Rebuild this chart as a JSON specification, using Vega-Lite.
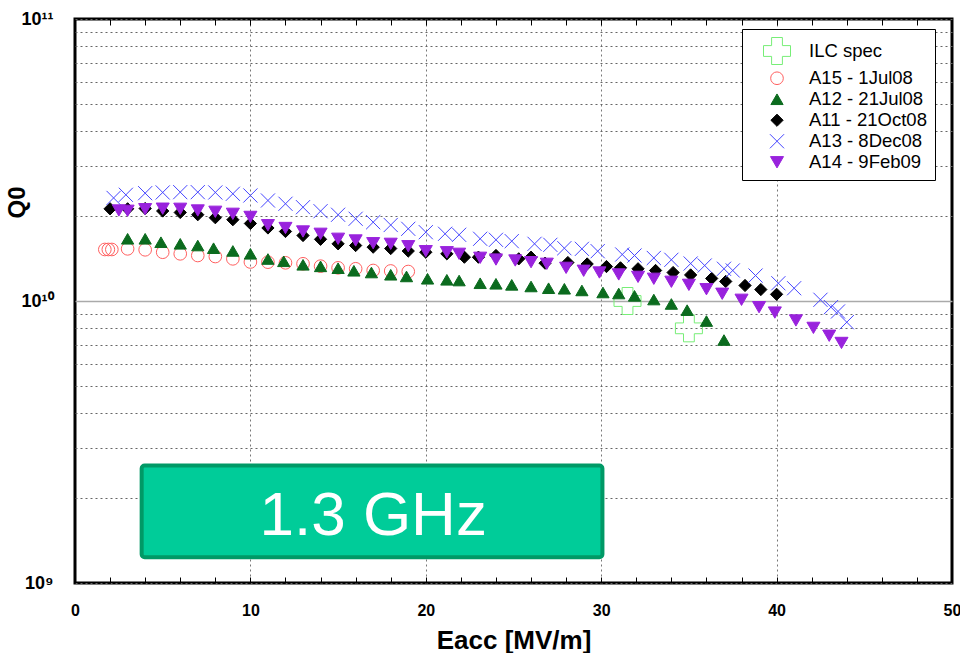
{
  "$schema": "https://vega.github.io/schema/vega-lite/v6.json",
  "width": 877,
  "height": 564,
  "autosize": "none",
  "padding": {"left": 75, "top": 19, "right": 8, "bottom": 70},
  "background": "white",
  "config": {"view": {"stroke": "black", "strokeWidth": 3}, "font": "Liberation Sans"},
  "datasets": {
    "box": [{"x1": 3.8, "x2": 30.07, "y1": 2.61e9, "y2": 1.235e9, "tx": 17.0, "ty": 1.474e9, "label": "1.3 GHz"}],
    "pts": [
      {"series": "ILC spec", "Eacc": 31.5, "Q0": 1.0e10},
      {"series": "ILC spec", "Eacc": 35, "Q0": 8.0e9},
      {"series": "A15 - 1Jul08", "Eacc": 1.7, "Q0": 1.523e10},
      {"series": "A15 - 1Jul08", "Eacc": 1.9, "Q0": 1.523e10},
      {"series": "A15 - 1Jul08", "Eacc": 2.1, "Q0": 1.523e10},
      {"series": "A15 - 1Jul08", "Eacc": 3, "Q0": 1.531e10},
      {"series": "A15 - 1Jul08", "Eacc": 4, "Q0": 1.519e10},
      {"series": "A15 - 1Jul08", "Eacc": 5, "Q0": 1.489e10},
      {"series": "A15 - 1Jul08", "Eacc": 6, "Q0": 1.470e10},
      {"series": "A15 - 1Jul08", "Eacc": 7, "Q0": 1.450e10},
      {"series": "A15 - 1Jul08", "Eacc": 8, "Q0": 1.438e10},
      {"series": "A15 - 1Jul08", "Eacc": 9, "Q0": 1.411e10},
      {"series": "A15 - 1Jul08", "Eacc": 10, "Q0": 1.375e10},
      {"series": "A15 - 1Jul08", "Eacc": 11, "Q0": 1.373e10},
      {"series": "A15 - 1Jul08", "Eacc": 12, "Q0": 1.366e10},
      {"series": "A15 - 1Jul08", "Eacc": 13, "Q0": 1.355e10},
      {"series": "A15 - 1Jul08", "Eacc": 14, "Q0": 1.329e10},
      {"series": "A15 - 1Jul08", "Eacc": 15, "Q0": 1.311e10},
      {"series": "A15 - 1Jul08", "Eacc": 16, "Q0": 1.301e10},
      {"series": "A15 - 1Jul08", "Eacc": 17, "Q0": 1.283e10},
      {"series": "A15 - 1Jul08", "Eacc": 18, "Q0": 1.278e10},
      {"series": "A15 - 1Jul08", "Eacc": 19, "Q0": 1.272e10},
      {"series": "A12 - 21Jul08", "Eacc": 3, "Q0": 1.662e10},
      {"series": "A12 - 21Jul08", "Eacc": 4, "Q0": 1.662e10},
      {"series": "A12 - 21Jul08", "Eacc": 4.9, "Q0": 1.616e10},
      {"series": "A12 - 21Jul08", "Eacc": 6, "Q0": 1.595e10},
      {"series": "A12 - 21Jul08", "Eacc": 7, "Q0": 1.573e10},
      {"series": "A12 - 21Jul08", "Eacc": 7.9, "Q0": 1.539e10},
      {"series": "A12 - 21Jul08", "Eacc": 9, "Q0": 1.505e10},
      {"series": "A12 - 21Jul08", "Eacc": 10, "Q0": 1.470e10},
      {"series": "A12 - 21Jul08", "Eacc": 11, "Q0": 1.409e10},
      {"series": "A12 - 21Jul08", "Eacc": 11.9, "Q0": 1.383e10},
      {"series": "A12 - 21Jul08", "Eacc": 13, "Q0": 1.344e10},
      {"series": "A12 - 21Jul08", "Eacc": 14, "Q0": 1.327e10},
      {"series": "A12 - 21Jul08", "Eacc": 15, "Q0": 1.307e10},
      {"series": "A12 - 21Jul08", "Eacc": 15.9, "Q0": 1.280e10},
      {"series": "A12 - 21Jul08", "Eacc": 16.9, "Q0": 1.262e10},
      {"series": "A12 - 21Jul08", "Eacc": 18, "Q0": 1.239e10},
      {"series": "A12 - 21Jul08", "Eacc": 18.9, "Q0": 1.222e10},
      {"series": "A12 - 21Jul08", "Eacc": 20.1, "Q0": 1.199e10},
      {"series": "A12 - 21Jul08", "Eacc": 21.2, "Q0": 1.189e10},
      {"series": "A12 - 21Jul08", "Eacc": 21.9, "Q0": 1.182e10},
      {"series": "A12 - 21Jul08", "Eacc": 23.1, "Q0": 1.156e10},
      {"series": "A12 - 21Jul08", "Eacc": 24, "Q0": 1.151e10},
      {"series": "A12 - 21Jul08", "Eacc": 24.9, "Q0": 1.141e10},
      {"series": "A12 - 21Jul08", "Eacc": 26, "Q0": 1.126e10},
      {"series": "A12 - 21Jul08", "Eacc": 27, "Q0": 1.110e10},
      {"series": "A12 - 21Jul08", "Eacc": 27.9, "Q0": 1.105e10},
      {"series": "A12 - 21Jul08", "Eacc": 28.9, "Q0": 1.090e10},
      {"series": "A12 - 21Jul08", "Eacc": 30.1, "Q0": 1.072e10},
      {"series": "A12 - 21Jul08", "Eacc": 31, "Q0": 1.063e10},
      {"series": "A12 - 21Jul08", "Eacc": 31.9, "Q0": 1.043e10},
      {"series": "A12 - 21Jul08", "Eacc": 33, "Q0": 1.012e10},
      {"series": "A12 - 21Jul08", "Eacc": 34, "Q0": 9.76e9},
      {"series": "A12 - 21Jul08", "Eacc": 34.9, "Q0": 9.28e9},
      {"series": "A12 - 21Jul08", "Eacc": 36, "Q0": 8.49e9},
      {"series": "A12 - 21Jul08", "Eacc": 37, "Q0": 7.27e9},
      {"series": "A11 - 21Oct08", "Eacc": 2, "Q0": 2.123e10},
      {"series": "A11 - 21Oct08", "Eacc": 3, "Q0": 2.123e10},
      {"series": "A11 - 21Oct08", "Eacc": 4, "Q0": 2.128e10},
      {"series": "A11 - 21Oct08", "Eacc": 5, "Q0": 2.085e10},
      {"series": "A11 - 21Oct08", "Eacc": 6, "Q0": 2.060e10},
      {"series": "A11 - 21Oct08", "Eacc": 7, "Q0": 2.023e10},
      {"series": "A11 - 21Oct08", "Eacc": 8, "Q0": 1.974e10},
      {"series": "A11 - 21Oct08", "Eacc": 9, "Q0": 1.942e10},
      {"series": "A11 - 21Oct08", "Eacc": 10, "Q0": 1.883e10},
      {"series": "A11 - 21Oct08", "Eacc": 11, "Q0": 1.815e10},
      {"series": "A11 - 21Oct08", "Eacc": 12, "Q0": 1.764e10},
      {"series": "A11 - 21Oct08", "Eacc": 13, "Q0": 1.707e10},
      {"series": "A11 - 21Oct08", "Eacc": 14, "Q0": 1.655e10},
      {"series": "A11 - 21Oct08", "Eacc": 15, "Q0": 1.595e10},
      {"series": "A11 - 21Oct08", "Eacc": 16, "Q0": 1.573e10},
      {"series": "A11 - 21Oct08", "Eacc": 17, "Q0": 1.552e10},
      {"series": "A11 - 21Oct08", "Eacc": 18, "Q0": 1.535e10},
      {"series": "A11 - 21Oct08", "Eacc": 19, "Q0": 1.504e10},
      {"series": "A11 - 21Oct08", "Eacc": 20, "Q0": 1.489e10},
      {"series": "A11 - 21Oct08", "Eacc": 21.2, "Q0": 1.470e10},
      {"series": "A11 - 21Oct08", "Eacc": 22.2, "Q0": 1.430e10},
      {"series": "A11 - 21Oct08", "Eacc": 23, "Q0": 1.430e10},
      {"series": "A11 - 21Oct08", "Eacc": 24, "Q0": 1.450e10},
      {"series": "A11 - 21Oct08", "Eacc": 25.3, "Q0": 1.411e10},
      {"series": "A11 - 21Oct08", "Eacc": 26, "Q0": 1.430e10},
      {"series": "A11 - 21Oct08", "Eacc": 26.8, "Q0": 1.362e10},
      {"series": "A11 - 21Oct08", "Eacc": 28.1, "Q0": 1.369e10},
      {"series": "A11 - 21Oct08", "Eacc": 29.2, "Q0": 1.353e10},
      {"series": "A11 - 21Oct08", "Eacc": 30.3, "Q0": 1.325e10},
      {"series": "A11 - 21Oct08", "Eacc": 31.1, "Q0": 1.311e10},
      {"series": "A11 - 21Oct08", "Eacc": 32.1, "Q0": 1.301e10},
      {"series": "A11 - 21Oct08", "Eacc": 33.1, "Q0": 1.283e10},
      {"series": "A11 - 21Oct08", "Eacc": 34.1, "Q0": 1.262e10},
      {"series": "A11 - 21Oct08", "Eacc": 35.1, "Q0": 1.237e10},
      {"series": "A11 - 21Oct08", "Eacc": 36.3, "Q0": 1.202e10},
      {"series": "A11 - 21Oct08", "Eacc": 37.1, "Q0": 1.173e10},
      {"series": "A11 - 21Oct08", "Eacc": 38.2, "Q0": 1.135e10},
      {"series": "A11 - 21Oct08", "Eacc": 39.1, "Q0": 1.098e10},
      {"series": "A11 - 21Oct08", "Eacc": 40, "Q0": 1.056e10},
      {"series": "A13 - 8Dec08", "Eacc": 2.2, "Q0": 2.32e10},
      {"series": "A13 - 8Dec08", "Eacc": 2.9, "Q0": 2.38e10},
      {"series": "A13 - 8Dec08", "Eacc": 4, "Q0": 2.412e10},
      {"series": "A13 - 8Dec08", "Eacc": 5, "Q0": 2.426e10},
      {"series": "A13 - 8Dec08", "Eacc": 6, "Q0": 2.432e10},
      {"series": "A13 - 8Dec08", "Eacc": 7, "Q0": 2.432e10},
      {"series": "A13 - 8Dec08", "Eacc": 8, "Q0": 2.426e10},
      {"series": "A13 - 8Dec08", "Eacc": 9, "Q0": 2.400e10},
      {"series": "A13 - 8Dec08", "Eacc": 10, "Q0": 2.367e10},
      {"series": "A13 - 8Dec08", "Eacc": 11, "Q0": 2.272e10},
      {"series": "A13 - 8Dec08", "Eacc": 12, "Q0": 2.212e10},
      {"series": "A13 - 8Dec08", "Eacc": 13, "Q0": 2.151e10},
      {"series": "A13 - 8Dec08", "Eacc": 14, "Q0": 2.082e10},
      {"series": "A13 - 8Dec08", "Eacc": 15, "Q0": 2.022e10},
      {"series": "A13 - 8Dec08", "Eacc": 16, "Q0": 1.957e10},
      {"series": "A13 - 8Dec08", "Eacc": 17, "Q0": 1.903e10},
      {"series": "A13 - 8Dec08", "Eacc": 18, "Q0": 1.860e10},
      {"series": "A13 - 8Dec08", "Eacc": 19, "Q0": 1.803e10},
      {"series": "A13 - 8Dec08", "Eacc": 20, "Q0": 1.754e10},
      {"series": "A13 - 8Dec08", "Eacc": 21.1, "Q0": 1.731e10},
      {"series": "A13 - 8Dec08", "Eacc": 21.9, "Q0": 1.717e10},
      {"series": "A13 - 8Dec08", "Eacc": 23.1, "Q0": 1.662e10},
      {"series": "A13 - 8Dec08", "Eacc": 24, "Q0": 1.648e10},
      {"series": "A13 - 8Dec08", "Eacc": 24.9, "Q0": 1.630e10},
      {"series": "A13 - 8Dec08", "Eacc": 26.2, "Q0": 1.595e10},
      {"series": "A13 - 8Dec08", "Eacc": 27.1, "Q0": 1.582e10},
      {"series": "A13 - 8Dec08", "Eacc": 27.9, "Q0": 1.539e10},
      {"series": "A13 - 8Dec08", "Eacc": 28.9, "Q0": 1.531e10},
      {"series": "A13 - 8Dec08", "Eacc": 29.8, "Q0": 1.502e10},
      {"series": "A13 - 8Dec08", "Eacc": 31.2, "Q0": 1.462e10},
      {"series": "A13 - 8Dec08", "Eacc": 31.9, "Q0": 1.450e10},
      {"series": "A13 - 8Dec08", "Eacc": 33, "Q0": 1.421e10},
      {"series": "A13 - 8Dec08", "Eacc": 34, "Q0": 1.400e10},
      {"series": "A13 - 8Dec08", "Eacc": 35.1, "Q0": 1.358e10},
      {"series": "A13 - 8Dec08", "Eacc": 35.9, "Q0": 1.336e10},
      {"series": "A13 - 8Dec08", "Eacc": 37, "Q0": 1.301e10},
      {"series": "A13 - 8Dec08", "Eacc": 37.5, "Q0": 1.283e10},
      {"series": "A13 - 8Dec08", "Eacc": 38.8, "Q0": 1.231e10},
      {"series": "A13 - 8Dec08", "Eacc": 40.1, "Q0": 1.156e10},
      {"series": "A13 - 8Dec08", "Eacc": 41, "Q0": 1.110e10},
      {"series": "A13 - 8Dec08", "Eacc": 42.5, "Q0": 1.010e10},
      {"series": "A13 - 8Dec08", "Eacc": 43.1, "Q0": 9.51e9},
      {"series": "A13 - 8Dec08", "Eacc": 43.5, "Q0": 9.18e9},
      {"series": "A13 - 8Dec08", "Eacc": 44, "Q0": 8.41e9},
      {"series": "A14 - 9Feb09", "Eacc": 2.5, "Q0": 2.094e10},
      {"series": "A14 - 9Feb09", "Eacc": 3, "Q0": 2.089e10},
      {"series": "A14 - 9Feb09", "Eacc": 4, "Q0": 2.116e10},
      {"series": "A14 - 9Feb09", "Eacc": 5, "Q0": 2.125e10},
      {"series": "A14 - 9Feb09", "Eacc": 6, "Q0": 2.123e10},
      {"series": "A14 - 9Feb09", "Eacc": 7, "Q0": 2.094e10},
      {"series": "A14 - 9Feb09", "Eacc": 8, "Q0": 2.072e10},
      {"series": "A14 - 9Feb09", "Eacc": 9, "Q0": 2.038e10},
      {"series": "A14 - 9Feb09", "Eacc": 10, "Q0": 1.987e10},
      {"series": "A14 - 9Feb09", "Eacc": 11, "Q0": 1.857e10},
      {"series": "A14 - 9Feb09", "Eacc": 12, "Q0": 1.815e10},
      {"series": "A14 - 9Feb09", "Eacc": 13, "Q0": 1.764e10},
      {"series": "A14 - 9Feb09", "Eacc": 14, "Q0": 1.731e10},
      {"series": "A14 - 9Feb09", "Eacc": 15, "Q0": 1.662e10},
      {"series": "A14 - 9Feb09", "Eacc": 16, "Q0": 1.639e10},
      {"series": "A14 - 9Feb09", "Eacc": 17, "Q0": 1.603e10},
      {"series": "A14 - 9Feb09", "Eacc": 18, "Q0": 1.595e10},
      {"series": "A14 - 9Feb09", "Eacc": 19, "Q0": 1.564e10},
      {"series": "A14 - 9Feb09", "Eacc": 20, "Q0": 1.502e10},
      {"series": "A14 - 9Feb09", "Eacc": 21.2, "Q0": 1.489e10},
      {"series": "A14 - 9Feb09", "Eacc": 21.9, "Q0": 1.470e10},
      {"series": "A14 - 9Feb09", "Eacc": 23.1, "Q0": 1.423e10},
      {"series": "A14 - 9Feb09", "Eacc": 24, "Q0": 1.403e10},
      {"series": "A14 - 9Feb09", "Eacc": 25.1, "Q0": 1.392e10},
      {"series": "A14 - 9Feb09", "Eacc": 26, "Q0": 1.373e10},
      {"series": "A14 - 9Feb09", "Eacc": 26.9, "Q0": 1.355e10},
      {"series": "A14 - 9Feb09", "Eacc": 28, "Q0": 1.311e10},
      {"series": "A14 - 9Feb09", "Eacc": 29, "Q0": 1.280e10},
      {"series": "A14 - 9Feb09", "Eacc": 29.9, "Q0": 1.262e10},
      {"series": "A14 - 9Feb09", "Eacc": 31, "Q0": 1.242e10},
      {"series": "A14 - 9Feb09", "Eacc": 32.1, "Q0": 1.218e10},
      {"series": "A14 - 9Feb09", "Eacc": 33, "Q0": 1.199e10},
      {"series": "A14 - 9Feb09", "Eacc": 34, "Q0": 1.170e10},
      {"series": "A14 - 9Feb09", "Eacc": 35, "Q0": 1.141e10},
      {"series": "A14 - 9Feb09", "Eacc": 36, "Q0": 1.101e10},
      {"series": "A14 - 9Feb09", "Eacc": 36.9, "Q0": 1.061e10},
      {"series": "A14 - 9Feb09", "Eacc": 38, "Q0": 1.010e10},
      {"series": "A14 - 9Feb09", "Eacc": 39, "Q0": 9.51e9},
      {"series": "A14 - 9Feb09", "Eacc": 39.9, "Q0": 9.10e9},
      {"series": "A14 - 9Feb09", "Eacc": 41.1, "Q0": 8.53e9},
      {"series": "A14 - 9Feb09", "Eacc": 42.1, "Q0": 8.03e9},
      {"series": "A14 - 9Feb09", "Eacc": 43, "Q0": 7.53e9},
      {"series": "A14 - 9Feb09", "Eacc": 43.7, "Q0": 7.10e9}
    ]
  },
  "layer": [
    {
      "data": {"name": "box"},
      "mark": {"type": "rect", "fill": "#00cc99", "stroke": "#009966", "strokeWidth": 4, "cornerRadius": 3},
      "encoding": {
        "x": {"field": "x1", "type": "quantitative", "scale": {"domain": [0, 50], "nice": false, "zero": false},
              "axis": {"orient": "top", "values": [2,4,6,8,10,12,14,16,18,20,22,24,26,28,30,32,34,36,38,40,42,44,46,48], "labels": false, "domain": false, "grid": false, "tickSize": -6, "tickColor": "black", "tickWidth": 1, "title": null}},
        "x2": {"field": "x2"},
        "y": {"field": "y1", "type": "quantitative", "scale": {"type": "log", "domain": [1e9, 1e11], "nice": false}, "axis": null},
        "y2": {"field": "y2"}
      }
    },
    {
      "data": {"name": "box"},
      "mark": {"type": "text", "fill": "white", "fontSize": 62, "font": "Liberation Sans", "align": "center", "baseline": "alphabetic"},
      "encoding": {
        "x": {"field": "tx", "type": "quantitative", "scale": {"domain": [0, 50], "nice": false, "zero": false}, "axis": null},
        "y": {"field": "ty", "type": "quantitative", "scale": {"type": "log", "domain": [1e9, 1e11], "nice": false}, "axis": null},
        "text": {"field": "label"}
      }
    },
    {
      "data": {"name": "pts"},
      "mark": {"type": "point", "opacity": 1, "fillOpacity": 1, "strokeOpacity": 1, "strokeWidth": 1},
      "encoding": {
        "x": {"field": "Eacc", "type": "quantitative", "scale": {"domain": [0, 50], "nice": false, "zero": false},
              "axis": {"orient": "bottom", "values": [0,2,4,6,8,10,12,14,16,18,20,22,24,26,28,30,32,34,36,38,40,42,44,46,48,50],
                       "labelExpr": "datum.value % 10 === 0 ? datum.label : ''", "labelFlush": false,
                       "domain": false, "tickSize": -6, "tickColor": "black", "tickWidth": 1,
                       "grid": true, "gridColor": "#777777", "gridDash": [2, 3], "gridWidth": 1,
                       "gridOpacity": {"condition": {"test": "datum.value % 10 === 0 && datum.value > 0 && datum.value < 50", "value": 1}, "value": 0},
                       "labelFont": "Liberation Sans", "labelFontSize": 16, "labelFontWeight": "bold", "labelColor": "black", "labelPadding": 25,
                       "title": "Eacc [MV/m]", "titleFont": "Liberation Sans", "titleFontSize": 26, "titleFontWeight": "bold", "titleColor": "black", "titlePadding": 9}},
        "y": {"field": "Q0", "type": "quantitative", "scale": {"type": "log", "domain": [1e9, 1e11], "nice": false},
              "axis": {"values": [1e9,2e9,3e9,4e9,5e9,6e9,7e9,8e9,9e9,1e10,2e10,3e10,4e10,5e10,6e10,7e10,8e10,9e10,1e11],
                       "labelExpr": "datum.value == 1e9 ? '10⁹' : datum.value == 1e10 ? '10¹⁰' : datum.value == 1e11 ? '10¹¹' : ''",
                       "domain": false, "ticks": false, "labelPadding": 22,
                       "grid": true,
                       "gridColor": {"condition": {"test": "datum.value == 1e10", "value": "#aaaaaa"}, "value": "#666666"},
                       "gridDash": {"condition": {"test": "datum.value == 1e10", "value": []}, "value": [2, 3]},
                       "gridWidth": {"condition": {"test": "datum.value == 1e10", "value": 1.5}, "value": 1},
                       "labelFont": "Liberation Sans", "labelFontSize": 18, "labelFontWeight": "bold", "labelColor": "black",
                       "title": "Q0", "titleFont": "Liberation Sans", "titleFontSize": 24, "titleFontWeight": "bold", "titleColor": "black",
                       "titleAngle": -90, "titleX": -58, "titleY": 183, "titleAlign": "center", "titleBaseline": "middle"}},
        "fill": {"field": "series", "type": "nominal",
                 "scale": {"domain": ["ILC spec", "A15 - 1Jul08", "A12 - 21Jul08", "A11 - 21Oct08", "A13 - 8Dec08", "A14 - 9Feb09"],
                           "range": ["transparent", "transparent", "#0b6b1e", "#000000", "transparent", "#9922dd"]},
                 "legend": {"title": null, "orient": "none", "legendX": 667, "legendY": 10, "fillColor": "white", "strokeColor": "black",
                            "padding": 8, "labelFont": "Liberation Sans", "labelFontSize": 18.5, "labelLimit": 300, "symbolOffset": 13, "labelOffset": 18,
                            "rowPadding": 2, "symbolStrokeWidth": 1,
                            "encode": {"labels": {"fill": {"value": {"expr": "datum.value === 'ILC spec' ? '#33dd33' : datum.value === 'A15 - 1Jul08' ? '#ff0000' : datum.value === 'A12 - 21Jul08' ? '#1a7a30' : datum.value === 'A13 - 8Dec08' ? '#2020ff' : datum.value === 'A14 - 9Feb09' ? '#9933cc' : '#000000'"}}},
                                       "legend": {"strokeWidth": {"value": 2}}}}},
        "shape": {"field": "series", "type": "nominal",
                  "scale": {"domain": ["ILC spec", "A15 - 1Jul08", "A12 - 21Jul08", "A11 - 21Oct08", "A13 - 8Dec08", "A14 - 9Feb09"],
                            "range": ["cross", "circle", "triangle-up", "diamond", "M-1,-1L1,1M-1,1L1,-1", "triangle-down"]},
                  "legend": {"title": null, "orient": "none", "legendX": 667, "legendY": 10, "fillColor": "white", "strokeColor": "black",
                             "padding": 8, "labelFont": "Liberation Sans", "labelFontSize": 18.5, "labelLimit": 300, "symbolOffset": 13, "labelOffset": 18,
                             "rowPadding": 2, "symbolStrokeWidth": 1,
                             "encode": {"labels": {"fill": {"value": {"expr": "datum.value === 'ILC spec' ? '#33dd33' : datum.value === 'A15 - 1Jul08' ? '#ff0000' : datum.value === 'A12 - 21Jul08' ? '#1a7a30' : datum.value === 'A13 - 8Dec08' ? '#2020ff' : datum.value === 'A14 - 9Feb09' ? '#9933cc' : '#000000'"}}},
                                        "legend": {"strokeWidth": {"value": 2}}}}},
        "stroke": {"field": "series", "type": "nominal",
                   "scale": {"domain": ["ILC spec", "A15 - 1Jul08", "A12 - 21Jul08", "A11 - 21Oct08", "A13 - 8Dec08", "A14 - 9Feb09"],
                             "range": ["#77ee77", "#ff6060", "#0b6b1e", "#000000", "#4545ff", "#9922dd"]},
                   "legend": {"title": null, "orient": "none", "legendX": 667, "legendY": 10, "fillColor": "white", "strokeColor": "black",
                              "padding": 8, "labelFont": "Liberation Sans", "labelFontSize": 18.5, "labelLimit": 300, "symbolOffset": 13, "labelOffset": 18,
                              "rowPadding": 2, "symbolStrokeWidth": 1,
                              "encode": {"labels": {"fill": {"value": {"expr": "datum.value === 'ILC spec' ? '#33dd33' : datum.value === 'A15 - 1Jul08' ? '#ff0000' : datum.value === 'A12 - 21Jul08' ? '#1a7a30' : datum.value === 'A13 - 8Dec08' ? '#2020ff' : datum.value === 'A14 - 9Feb09' ? '#9933cc' : '#000000'"}}},
                                         "legend": {"strokeWidth": {"value": 2}}}}},
        "size": {"field": "series", "type": "nominal",
                 "scale": {"type": "ordinal", "domain": ["ILC spec", "A15 - 1Jul08", "A12 - 21Jul08", "A11 - 21Oct08", "A13 - 8Dec08", "A14 - 9Feb09"],
                           "range": [729, 160, 150, 150, 200, 170]},
                 "legend": {"title": null, "orient": "none", "legendX": 667, "legendY": 10, "fillColor": "white", "strokeColor": "black",
                            "padding": 8, "labelFont": "Liberation Sans", "labelFontSize": 18.5, "labelLimit": 300, "symbolOffset": 13, "labelOffset": 18,
                            "rowPadding": 2, "symbolStrokeWidth": 1,
                            "encode": {"labels": {"fill": {"value": {"expr": "datum.value === 'ILC spec' ? '#33dd33' : datum.value === 'A15 - 1Jul08' ? '#ff0000' : datum.value === 'A12 - 21Jul08' ? '#1a7a30' : datum.value === 'A13 - 8Dec08' ? '#2020ff' : datum.value === 'A14 - 9Feb09' ? '#9933cc' : '#000000'"}}},
                                       "legend": {"strokeWidth": {"value": 2}}}}}
      }
    }
  ],
  "resolve": {"axis": {"x": "independent", "y": "independent"}}
}
